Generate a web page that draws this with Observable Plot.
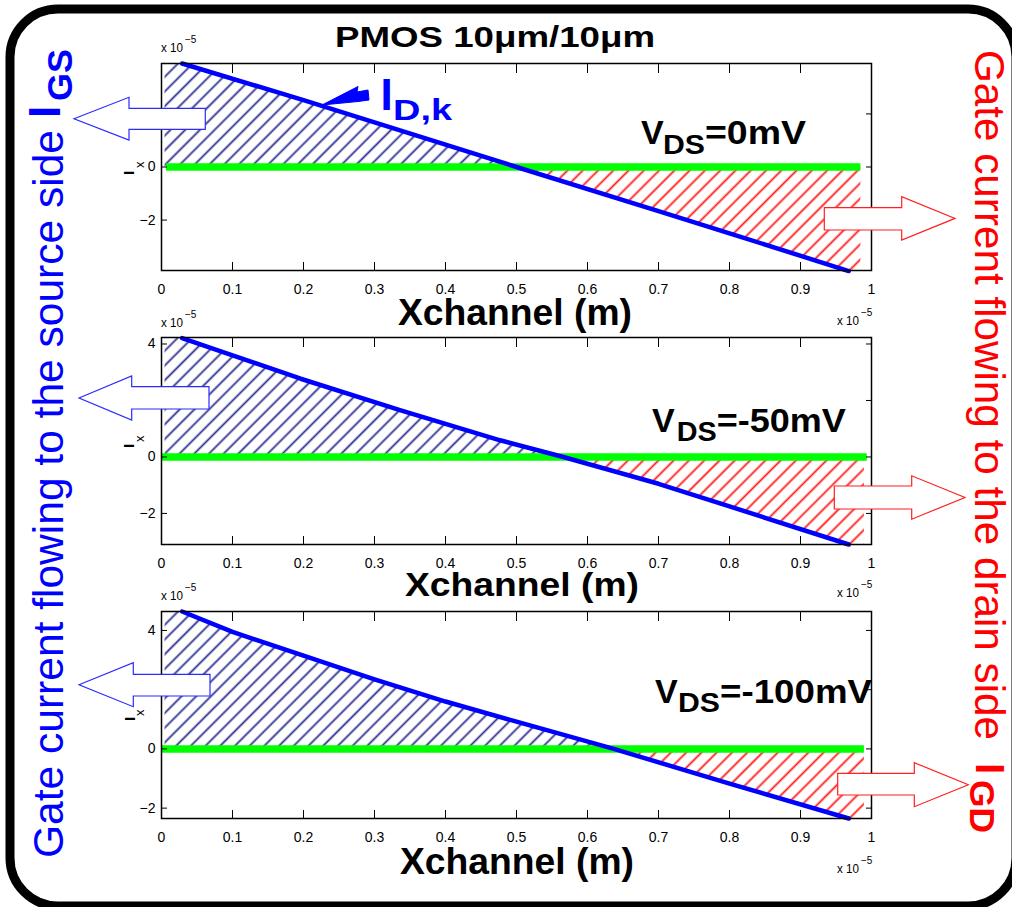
<!DOCTYPE html>
<html><head><meta charset="utf-8">
<script src="https://cdn.jsdelivr.net/npm/d3@7"></script>
<script src="https://cdn.jsdelivr.net/npm/@observablehq/plot@0.6"></script>
<style>
html,body{margin:0;padding:0;background:#fff;}
#wrap{position:relative;width:1012px;height:907px;overflow:hidden;background:#fff;}
#wrap svg.plotpanel{position:absolute;left:0;}
#overlay{position:absolute;left:0;top:0;pointer-events:none;}
</style></head>
<body>
<svg width="0" height="0" style="position:absolute;left:0;top:0">
  <defs>
    <pattern id="hatchBlue" patternUnits="userSpaceOnUse" width="10.4" height="10.4" patternTransform="rotate(45)">
      <line x1="5.2" y1="0" x2="5.2" y2="10.4" stroke="#2e3192" stroke-width="1.8"/>
    </pattern>
    <pattern id="hatchRed" patternUnits="userSpaceOnUse" width="10.8" height="10.8" patternTransform="rotate(45)">
      <line x1="5.4" y1="0" x2="5.4" y2="10.8" stroke="#ff1a1a" stroke-width="1.8"/>
    </pattern>
  </defs>
</svg>
<div id="wrap"></div>
<script>
// ---------- data ----------
const titleText = "PMOS 10\u03bcm/10\u03bcm";
const xLabelText = "Xchannel (m)";
const xTicks = [0, 0.1, 0.2, 0.3, 0.4, 0.5, 0.6, 0.7, 0.8, 0.9, 1];
const xTickLabels = ["0", "0.1", "0.2", "0.3", "0.4", "0.5", "0.6", "0.7", "0.8", "0.9", "1"];

// panel 1 : VDS = 0 mV
const vds1 = "=0mV";
const lineX1 = [0.029, 0.2, 0.4, 0.5, 0.7, 0.8, 0.968];
const lineY1 = [3.9, 2.52, 0.84, 0, -1.66, -2.5, -3.92];
const yDomain1 = [-3.9, 3.9];
const yTicks1 = [-2, 0, 2];
const yTickLabels1 = ["\u22122", "0", "2"];
const green1 = [0.007, 0.985];
const hatchEnds1 = [0.005, 0.985];

// panel 2 : VDS = -50 mV
const vds2 = "=-50mV";
const lineX2 = [0.029, 0.196, 0.337, 0.477, 0.566, 0.7, 0.8, 0.968];
const lineY2 = [4.21, 2.77, 1.65, 0.59, 0, -0.95, -1.75, -3.1];
const yDomain2 = [-3.1, 4.23];
const yTicks2 = [-2, 0, 2, 4];
const yTickLabels2 = ["\u22122", "0", "2", "4"];
const green2 = [0, 0.994];
const hatchEnds2 = [0.005, 0.99];

// panel 3 : VDS = -100 mV
const vds3 = "=-100mV";
const lineX3 = [0.029, 0.1, 0.2, 0.3, 0.4, 0.5, 0.637, 0.8, 0.968];
const lineY3 = [4.64, 3.95, 3.15, 2.35, 1.6, 0.92, 0, -1.17, -2.35];
const yDomain3 = [-2.35, 4.64];
const yTicks3 = [-2, 0, 2, 4];
const yTickLabels3 = ["\u22122", "0", "2", "4"];
const green3 = [0, 0.99];
const hatchEnds3 = [0.005, 0.99];

// ---------- layout ----------
const FONT = "'Liberation Sans', Arial, Helvetica, sans-serif";
const NARROW = "'Liberation Sans Narrow', 'Liberation Sans', Arial, sans-serif";
const panelTops = [42.5, 316.5, 591];
const frameH = 207;

const wrap = document.getElementById("wrap");

function makePanel(xs, ys, dom, ticks, tickLabels, green, hatchEnds, top) {
  const line = xs.map((x, i) => ({x, y: ys[i]}));
  const blue = [{x: hatchEnds[0], y: line[0].y}, ...line.filter(d => d.y >= 0)];
  const red = [...line.filter(d => d.y <= 0), {x: hatchEnds[1], y: line[line.length - 1].y}];
  const xlab = new Map(xTicks.map((t, i) => [t, xTickLabels[i]]));
  const ylab = new Map(ticks.map((t, i) => [t, tickLabels[i]]));
  const svg = Plot.plot({
    width: 1012, height: frameH + 60,
    marginLeft: 161, marginRight: 141, marginTop: 20, marginBottom: 40,
    x: {domain: [0, 1], label: null},
    y: {domain: dom, label: null},
    style: {fontFamily: NARROW, fontSize: "14px", color: "black", background: "transparent", overflow: "visible"},
    marks: [
      Plot.areaY(blue, {x: "x", y1: 0, y2: "y", fill: "url(#hatchBlue)"}),
      Plot.areaY(red, {x: "x", y1: 0, y2: "y", fill: "url(#hatchRed)"}),
      Plot.ruleY([0], {x1: green[0], x2: green[1], stroke: "#00ff00", strokeWidth: 7.5}),
      Plot.line(line, {x: "x", y: "y", stroke: "#0000ff", strokeWidth: 4.5}),
      Plot.frame({stroke: "black", strokeWidth: 1.5}),
      Plot.axisX(xTicks, {anchor: "bottom", tickSize: -8, fill: "none", label: null}),
      Plot.axisX(xTicks, {anchor: "top", tickSize: -9, fill: "none", label: null}),
      Plot.axisX(xTicks, {anchor: "bottom", tickSize: 0, tickPadding: 14, tickFormat: d => xlab.get(d), label: null}),
      Plot.axisY(ticks, {anchor: "left", tickSize: -6, fill: "none", label: null}),
      Plot.axisY(ticks, {anchor: "right", tickSize: -6, fill: "none", label: null}),
      Plot.axisY(ticks, {anchor: "left", tickSize: 0, tickPadding: 6, tickFormat: d => ylab.get(d), label: null})
    ]
  });
  svg.classList.add("plotpanel");
  svg.style.top = top + "px";
  wrap.appendChild(svg);
}

makePanel(lineX1, lineY1, yDomain1, yTicks1, yTickLabels1, green1, hatchEnds1, panelTops[0]);
makePanel(lineX2, lineY2, yDomain2, yTicks2, yTickLabels2, green2, hatchEnds2, panelTops[1]);
makePanel(lineX3, lineY3, yDomain3, yTicks3, yTickLabels3, green3, hatchEnds3, panelTops[2]);

// ---------- overlay (annotations) ----------
const NS = "http://www.w3.org/2000/svg";
const ov = document.createElementNS(NS, "svg");
ov.setAttribute("id", "overlay");
ov.setAttribute("width", 1012);
ov.setAttribute("height", 907);
wrap.appendChild(ov);

function el(tag, attrs, parent = ov) {
  const e = document.createElementNS(NS, tag);
  for (const k in attrs) e.setAttribute(k, attrs[k]);
  parent.appendChild(e);
  return e;
}
function txt(s, attrs, parent = ov) {
  const e = el("text", Object.assign({"font-family": FONT}, attrs), parent);
  e.textContent = s;
  return e;
}

// border
el("rect", {x: 10, y: 9, width: 1006, height: 897, rx: 48, ry: 48, fill: "none", stroke: "black", "stroke-width": 9});

// title
txt(titleText, {x: 335, y: 46.5, "font-size": 30, "font-weight": "bold", textLength: 320, lengthAdjust: "spacingAndGlyphs"});

// x labels
const xLabelPos = [[398, 325, 36], [405, 596, 34], [400, 874, 36]];
for (const [x, y, fs] of xLabelPos) {
  txt(xLabelText, {x, y, "font-size": fs, "font-weight": "bold", textLength: 234, lengthAdjust: "spacingAndGlyphs"});
}

// x 10^-5 multipliers
const multPos = [[161, 51.7], [837, 325], [161, 326.7], [837, 596.7], [161, 600], [837, 873]];
for (const [x, y] of multPos) {
  txt("x 10", {x, y, "font-size": 13, "font-family": NARROW, textLength: 22, lengthAdjust: "spacingAndGlyphs"});
  txt("\u22125", {x: x + 24, y: y - 9, "font-size": 10, "font-family": NARROW});
}

// y labels "I_x" rotated
const ylabPos = [[134, 175, 144, 168], [134, 448, 144, 442], [135, 721, 144, 716]];
for (const [x1, y1, x2, y2] of ylabPos) {
  txt("I", {transform: `translate(${x1},${y1}) rotate(-90)`, "font-size": 15, "font-weight": "bold"});
  txt("x", {transform: `translate(${x2},${y2}) rotate(-90)`, "font-size": 13});
}

// VDS labels
const vdsTexts = [vds1, vds2, vds3];
const vdsPos = [
  {vx: 641, base: 144, dsx: 663, dsw: 42, rx: 705, rw: 101},
  {vx: 652, base: 431.7, dsx: 676.7, dsw: 40, rx: 716.7, rw: 129},
  {vx: 655, base: 702.7, dsx: 678, dsw: 42, rx: 720, rw: 152}
];
vdsPos.forEach((p, i) => {
  txt("V", {x: p.vx, y: p.base, "font-size": 34, "font-weight": "bold"});
  txt("DS", {x: p.dsx, y: p.base + 9.5, "font-size": 28, "font-weight": "bold", textLength: p.dsw, lengthAdjust: "spacingAndGlyphs"});
  txt(vdsTexts[i], {x: p.rx, y: p.base, "font-size": 34, "font-weight": "bold", textLength: p.rw, lengthAdjust: "spacingAndGlyphs"});
});

// I_D,k annotation
txt("I", {x: 380.5, y: 110, "font-size": 44, "font-weight": "bold", fill: "#0000ff"});
txt("D,k", {x: 393, y: 120, "font-size": 30, "font-weight": "bold", fill: "#0000ff", textLength: 59, lengthAdjust: "spacingAndGlyphs"});
el("polygon", {points: "322,105 358,86.5 357,92 368,90 369,100 358,101.5", fill: "#0000ff", stroke: "#0000ff", "stroke-width": 1});

// left (source) arrows
const leftArrows = [
  {tip: 74, cy: 118.7, hb: 129, hh: 21.4, br: 205.3, bt: 108.3, bb: 129.3},
  {tip: 79, cy: 398, hb: 131.7, hh: 22, br: 209, bt: 386.7, bb: 409},
  {tip: 79, cy: 684.7, hb: 133.3, hh: 22, br: 210, bt: 674.3, bb: 696}
];
for (const a of leftArrows) {
  el("polygon", {points: `${a.tip},${a.cy} ${a.hb},${a.cy - a.hh} ${a.hb},${a.bt} ${a.br},${a.bt} ${a.br},${a.bb} ${a.hb},${a.bb} ${a.hb},${a.cy + a.hh}`,
    fill: "white", stroke: "#2b2bff", "stroke-width": 1.2});
}
// right (drain) arrows
const rightArrows = [
  {bl: 824.3, bt: 207.7, bb: 230, hb: 901.7, cy: 218.4, hh: 21.7, tip: 955},
  {bl: 834.3, bt: 486, bb: 509, hb: 911.7, cy: 497.5, hh: 21.7, tip: 965},
  {bl: 837.7, bt: 773.3, bb: 795, hb: 914.3, cy: 784.7, hh: 22, tip: 968.3}
];
for (const a of rightArrows) {
  el("polygon", {points: `${a.bl},${a.bt} ${a.hb},${a.bt} ${a.hb},${a.cy - a.hh} ${a.tip},${a.cy} ${a.hb},${a.cy + a.hh} ${a.hb},${a.bb} ${a.bl},${a.bb}`,
    fill: "white", stroke: "#ff2020", "stroke-width": 1.2});
}

// side texts
txt("Gate current flowing to the source side", {transform: "translate(63,858) rotate(-90)", "font-size": 42, fill: "#0000ff", textLength: 728, lengthAdjust: "spacingAndGlyphs"});
txt("I", {transform: "translate(60,118) rotate(-90)", "font-size": 44, "font-weight": "bold", fill: "#0000ff"});
txt("GS", {transform: "translate(72,101) rotate(-90)", "font-size": 35, "font-weight": "bold", fill: "#0000ff", textLength: 52, lengthAdjust: "spacingAndGlyphs"});

txt("Gate current flowing to the drain side", {transform: "translate(975,50) rotate(90)", "font-size": 42, fill: "#ff0000", textLength: 690, lengthAdjust: "spacingAndGlyphs"});
txt("I", {transform: "translate(976,763) rotate(90)", "font-size": 40, "font-weight": "bold", fill: "#ff0000"});
txt("GD", {transform: "translate(970,780) rotate(90)", "font-size": 35, "font-weight": "bold", fill: "#ff0000", textLength: 53, lengthAdjust: "spacingAndGlyphs"});
</script>
</body></html>
